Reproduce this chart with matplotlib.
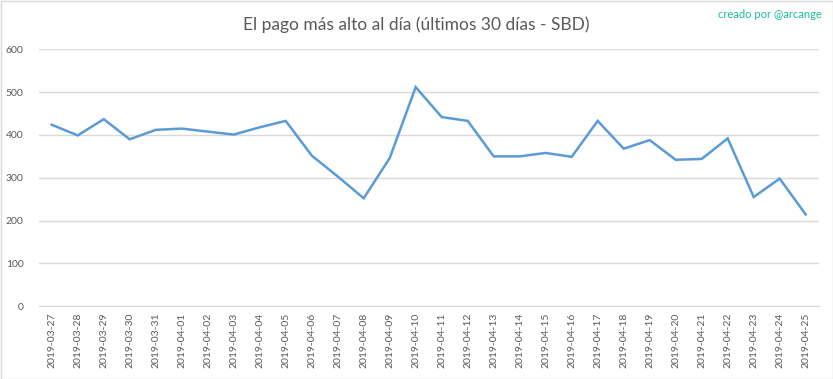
import matplotlib
matplotlib.use("Agg")
import matplotlib.pyplot as plt
from matplotlib.patches import Rectangle

dates = ["2019-03-27", "2019-03-28", "2019-03-29", "2019-03-30", "2019-03-31",
         "2019-04-01", "2019-04-02", "2019-04-03", "2019-04-04", "2019-04-05",
         "2019-04-06", "2019-04-07", "2019-04-08", "2019-04-09", "2019-04-10",
         "2019-04-11", "2019-04-12", "2019-04-13", "2019-04-14", "2019-04-15",
         "2019-04-16", "2019-04-17", "2019-04-18", "2019-04-19", "2019-04-20",
         "2019-04-21", "2019-04-22", "2019-04-23", "2019-04-24", "2019-04-25"]
values = [424, 399, 437, 390, 412, 415, 408, 401, 418, 433,
          352, 303, 252, 346, 512, 442, 433, 350, 350, 358,
          349, 433, 368, 388, 342, 344, 392, 255, 298, 214]
yticks = [0, 100, 200, 300, 400, 500, 600]

title = "El pago más alto al día (últimos 30 días - SBD)"
credit = "creado por @arcange"

plt.rcParams['font.family'] = ['Lato', 'DejaVu Sans']

fig = plt.figure(figsize=(8.33, 3.79), dpi=100)
ax = fig.add_axes([38.7 / 833, 1 - 306 / 379, (818.7 - 38.7) / 833, (306 - 49.5) / 379])

x = list(range(len(values)))
ax.plot(x, values, color="#5b9bd5", lw=1.8, solid_joinstyle="miter")
ax.set_xlim(-0.5, len(values) - 0.5)
ax.set_ylim(0, 600)
ax.set_yticks(yticks)
ax.set_yticklabels([str(v) for v in yticks])
ax.set_xticks(x)
ax.set_xticklabels(dates, rotation=90)
ax.grid(axis="y", color="#d9d9d9", lw=1)
ax.set_axisbelow(True)
for s in ["top", "right", "left"]:
    ax.spines[s].set_visible(False)
ax.spines["bottom"].set_color("#d9d9d9")
ax.tick_params(axis="both", length=0, colors="#595959", labelsize=7.5)
ax.tick_params(axis="y", pad=11)
ax.tick_params(axis="x", pad=5)

fig.text(416 / 833, 1 - 25 / 379, title, ha="center", va="center",
         fontsize=12.5, color="#595959")
fig.text(822 / 833, 1 - 14 / 379, credit, ha="right", va="center",
         fontsize=8, color="#1abc9c")

fig.patches.append(Rectangle((0.5 / 833, 0.5 / 379), 832 / 833, 378 / 379,
                             transform=fig.transFigure, fill=False,
                             edgecolor="#d9d9d9", lw=1))

fig.savefig("out.png", dpi=100)
